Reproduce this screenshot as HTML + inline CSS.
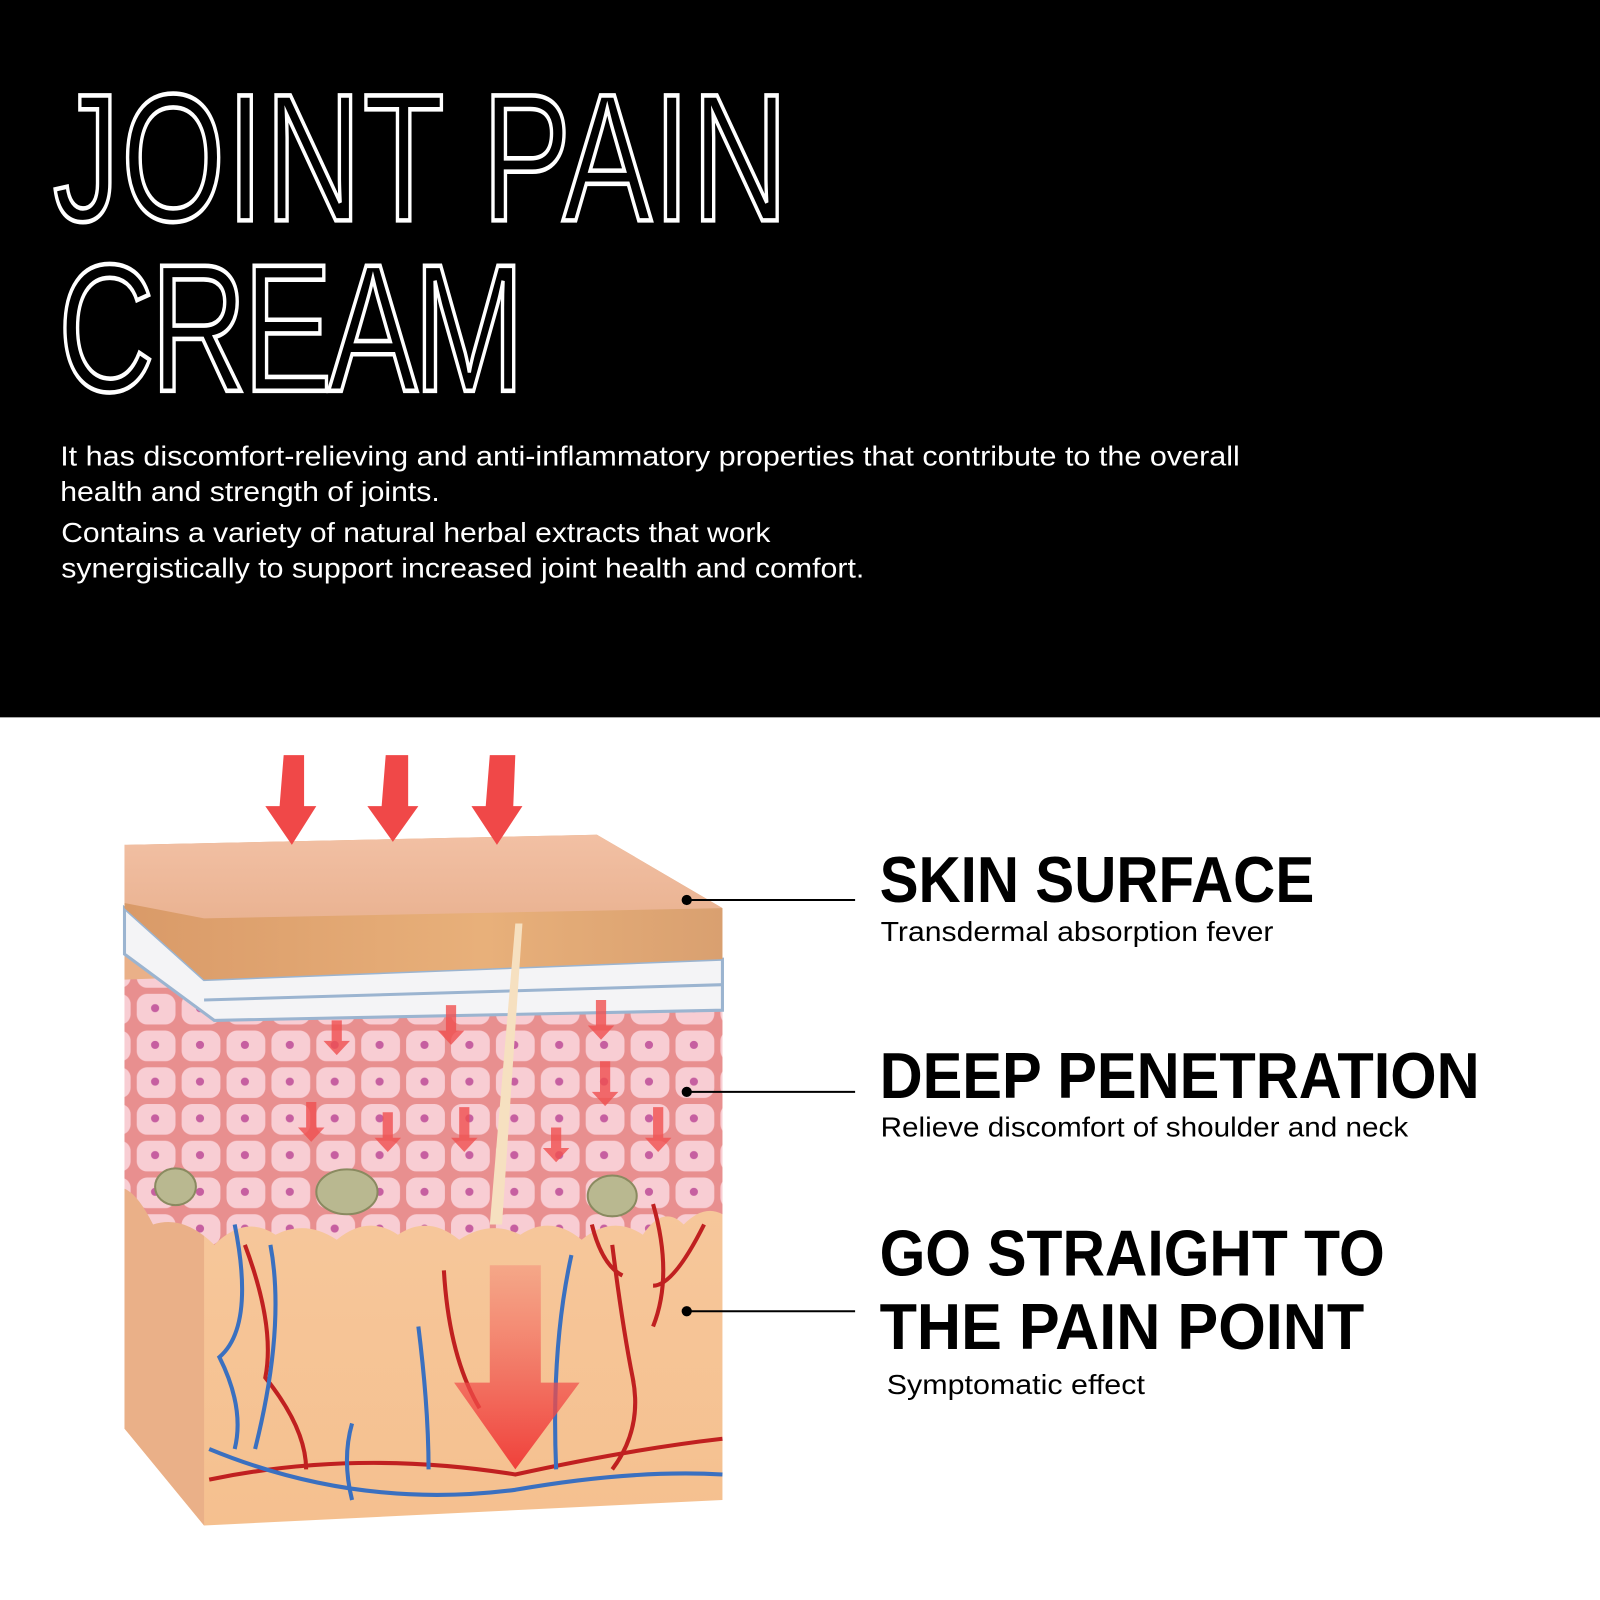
<!DOCTYPE html>
<html><head><meta charset="utf-8"><style>
html,body{margin:0;padding:0;background:#fff;}
svg{display:block}
</style></head><body>
<svg width="1600" height="1600" viewBox="0 0 1568 1568" xmlns="http://www.w3.org/2000/svg">
<defs>
<linearGradient id="arr" x1="0" y1="0" x2="0" y2="1">
<stop offset="0" stop-color="#f26060" stop-opacity="0.3"/><stop offset="1" stop-color="#f0403a"/></linearGradient>
<linearGradient id="derm" x1="0" y1="0" x2="0" y2="1">
<stop offset="0" stop-color="#f7cfa8"/><stop offset="1" stop-color="#f5c08f"/></linearGradient>
<linearGradient id="top" x1="0" y1="0" x2="0" y2="1">
<stop offset="0" stop-color="#f2c0a4"/><stop offset="1" stop-color="#eab392"/></linearGradient>
<linearGradient id="band" x1="0" y1="0" x2="1" y2="0">
<stop offset="0" stop-color="#d99a68"/><stop offset="0.6" stop-color="#e8b07a"/><stop offset="1" stop-color="#d9a070"/></linearGradient>
<pattern id="cells" width="44" height="36" patternUnits="userSpaceOnUse">
<rect width="44" height="36" fill="#e88f8f"/>
<rect x="2" y="2" width="38" height="30" rx="10" fill="#f8cdd3"/>
<circle cx="20" cy="16" r="4" fill="#c65fa0"/>
</pattern>
</defs>
<rect x="0" y="0" width="1568" height="703" fill="#000"/>
<g font-family="Liberation Sans, sans-serif" fill="none" stroke="#fff" stroke-width="4.5">
<text x="52" y="216" font-size="178" transform="translate(52 0) scale(0.735 1) translate(-52 0)" textLength="980">JOINT PAIN</text>
<text x="57" y="383" font-size="178" transform="translate(57 0) scale(0.735 1) translate(-57 0)" textLength="622">CREAM</text>
</g>
<g font-family="Liberation Sans, sans-serif" fill="#fff" font-size="27">
<text x="59" y="456" textLength="1156" lengthAdjust="spacingAndGlyphs">It has discomfort-relieving and anti-inflammatory properties that contribute to the overall</text>
<text x="59" y="491" textLength="372" lengthAdjust="spacingAndGlyphs">health and strength of joints.</text>
<text x="60" y="531" textLength="695" lengthAdjust="spacingAndGlyphs">Contains a variety of natural herbal extracts that work</text>
<text x="60" y="566" textLength="787" lengthAdjust="spacingAndGlyphs">synergistically to support increased joint health and comfort.</text>
</g>
<!-- diagram -->
<polygon points="122,828 122,1400 200,1495 708,1470 708,890" fill="url(#derm)"/>
<polygon points="122,890 122,1400 200,1495 200,960" fill="#eab088"/>
<path d="M122,960 L708,940 L708,1190 Q690,1180 670,1200 Q650,1180 630,1210 Q600,1190 570,1215 Q540,1190 510,1210 Q480,1195 450,1215 Q420,1190 390,1210 Q360,1190 330,1215 Q300,1195 270,1210 Q240,1190 210,1220 Q180,1190 150,1200 Q135,1170 122,1165 Z" fill="url(#cells)"/>
<path d="M122,890 L200,960 L708,940 L708,990 L210,1000 L122,935 Z" fill="#f4f4f6" stroke="#9bb4d0" stroke-width="3"/>
<path d="M200,980 L708,965" stroke="#9bb4d0" stroke-width="3"/>
<polygon points="122,828 585,818 708,890 708,940 200,960 122,890" fill="url(#band)"/>
<polygon points="122,828 585,818 708,890 200,900 122,885" fill="url(#top)"/>
<path d="M505,905 L480,1200 L492,1200 L512,905 Z" fill="#f6e0c0"/>
<g fill="#b9b890" stroke="#8a8a60" stroke-width="2"><ellipse cx="172" cy="1163" rx="20" ry="18"/><ellipse cx="340" cy="1168" rx="30" ry="22"/><ellipse cx="600" cy="1172" rx="24" ry="20"/></g>
<g fill="none" stroke="#c02020" stroke-width="4">
<path d="M205,1450 Q350,1420 505,1445 Q620,1420 708,1410"/>
<path d="M240,1220 Q270,1300 260,1350 Q300,1400 300,1440"/>
<path d="M435,1245 Q440,1330 470,1380"/>
<path d="M600,1220 Q610,1300 620,1350 Q630,1400 600,1440"/>
<path d="M640,1180 Q660,1250 640,1300"/>
<path d="M690,1200 Q660,1260 640,1260"/>
<path d="M580,1200 Q590,1240 610,1250"/>
</g>
<g fill="none" stroke="#3a70c0" stroke-width="4">
<path d="M205,1420 Q350,1480 505,1460 Q620,1440 708,1445"/>
<path d="M230,1200 Q250,1300 215,1330 Q240,1380 230,1420"/>
<path d="M265,1220 Q280,1300 250,1420"/>
<path d="M410,1300 Q420,1380 420,1440"/>
<path d="M560,1230 Q540,1320 545,1440"/>
<path d="M345,1395 Q335,1430 345,1470"/>
</g>
<path d="M480,1240 L530,1240 L530,1355 L568,1355 L505,1440 L445,1355 L480,1355 Z" fill="url(#arr)"/>
<g fill="#f04848">
<path d="M278,740 L298,740 L298,790 L310,790 L286,828 L260,790 L274,790 Z"/>
<path d="M378,740 L400,740 L400,790 L410,790 L385,825 L360,790 L374,790 Z"/>
<path d="M480,740 L505,740 L503,790 L512,790 L487,828 L462,790 L476,790 Z"/>
</g>
<g fill="#f05050" opacity="0.8">
<path d="M325,1000 h10 v20 h8 l-13,14 l-13,-14 h8z"/>
<path d="M437,985 h10 v25 h8 l-13,14 l-13,-14 h8z"/>
<path d="M584,980 h10 v25 h8 l-13,14 l-13,-14 h8z"/>
<path d="M300,1080 h10 v25 h8 l-13,14 l-13,-14 h8z"/>
<path d="M375,1090 h10 v25 h8 l-13,14 l-13,-14 h8z"/>
<path d="M450,1085 h10 v30 h8 l-13,14 l-13,-14 h8z"/>
<path d="M540,1105 h10 v20 h8 l-13,14 l-13,-14 h8z"/>
<path d="M588,1040 h10 v30 h8 l-13,14 l-13,-14 h8z"/>
<path d="M640,1085 h10 v30 h8 l-13,14 l-13,-14 h8z"/>
</g>
<!-- leaders -->
<g stroke="#000" stroke-width="2"><line x1="673" y1="882" x2="838" y2="882"/><line x1="673" y1="1070" x2="838" y2="1070"/><line x1="673" y1="1285" x2="838" y2="1285"/></g>
<g fill="#000"><circle cx="673" cy="882" r="5"/><circle cx="673" cy="1070" r="5"/><circle cx="673" cy="1285" r="5"/></g>
<g font-family="Liberation Sans, sans-serif" fill="#000">
<text x="862" y="884" font-size="64" font-weight="bold" textLength="426" lengthAdjust="spacingAndGlyphs">SKIN SURFACE</text>
<text x="863" y="922" font-size="27" textLength="385" lengthAdjust="spacingAndGlyphs">Transdermal absorption fever</text>
<text x="862" y="1076" font-size="64" font-weight="bold" textLength="588" lengthAdjust="spacingAndGlyphs">DEEP PENETRATION</text>
<text x="863" y="1114" font-size="27" textLength="517" lengthAdjust="spacingAndGlyphs">Relieve discomfort of shoulder and neck</text>
<text x="862" y="1250" font-size="64" font-weight="bold" textLength="495" lengthAdjust="spacingAndGlyphs">GO STRAIGHT TO</text>
<text x="862" y="1322" font-size="64" font-weight="bold" textLength="475" lengthAdjust="spacingAndGlyphs">THE PAIN POINT</text>
<text x="869" y="1366" font-size="27" textLength="253" lengthAdjust="spacingAndGlyphs">Symptomatic effect</text>
</g>
</svg>
</body></html>
